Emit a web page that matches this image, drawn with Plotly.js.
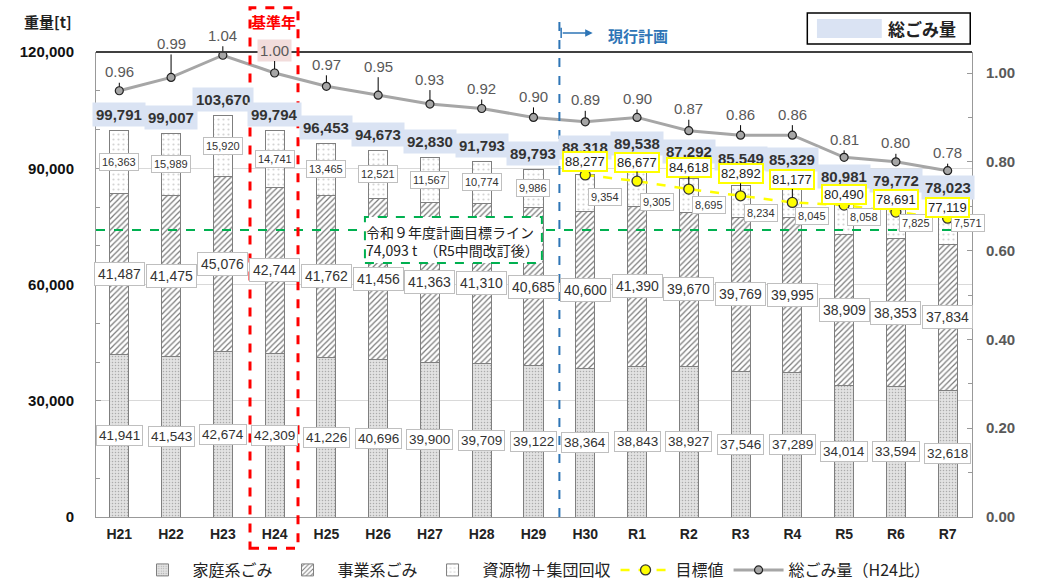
<!DOCTYPE html>
<html>
<head>
<meta charset="utf-8">
<script src="https://cdn.plot.ly/plotly-3.0.1.min.js"></script>
<style>
  body { margin: 0; background: #fff; }
  #chart { width: 1040px; height: 582px; }
</style>
</head>
<body>
<div id="chart"></div>
<script>
// years on the x axis
const years = ['H21', 'H22', 'H23', 'H24', 'H25', 'H26', 'H27', 'H28', 'H29',
               'H30', 'R1', 'R2', 'R3', 'R4', 'R5', 'R6', 'R7'];

// stacked parts of the total (t)
const household = [41941, 41543, 42674, 42309, 41226, 40696, 39900, 39709, 39122,
                   38364, 38843, 38927, 37546, 37289, 34014, 33594, 32618];
const business = [41487, 41475, 45076, 42744, 41762, 41456, 41363, 41310, 40685,
                  40600, 41390, 39670, 39769, 39995, 38909, 38353, 37834];
const resources = [16363, 15989, 15920, 14741, 13465, 12521, 11567, 10774, 9986,
                   9354, 9305, 8695, 8234, 8045, 8058, 7825, 7571];
const totals = [99791, 99007, 103670, 99794, 96453, 94673, 92830, 91793, 89793,
                88318, 89538, 87292, 85549, 85329, 80981, 79772, 78023];

// total compared with H24
const ratio = [0.96, 0.99, 1.04, 1.00, 0.97, 0.95, 0.93, 0.92, 0.90,
               0.89, 0.90, 0.87, 0.86, 0.86, 0.81, 0.80, 0.78];

// plan targets
const targetYears = ['H30', 'R1', 'R2', 'R3', 'R4', 'R5', 'R6', 'R7'];
const targetValues = [88277, 86677, 84618, 82892, 81177, 80490, 78691, 77119];

const planLine = 74093;

const FONT = '"Liberation Sans", Arial, "Noto Sans CJK JP", sans-serif';
const JP = '"Noto Sans CJK JP", sans-serif';

function fmt(v) { return v.toLocaleString('en-US'); }

const barLine = { color: '#7f7f7f', width: 1 };

const traces = [
  {
    type: 'bar', name: '家庭系ごみ', x: years, y: household, width: 0.37,
    marker: { color: '#dedede', line: barLine,
      pattern: { shape: '.', fgcolor: '#ababab', bgcolor: '#e2e2e2', size: 3, solidity: 0.2 } },
    hoverinfo: 'skip'
  },
  {
    type: 'bar', name: '事業系ごみ', x: years, y: business, width: 0.37,
    marker: { color: '#ffffff', line: barLine,
      pattern: { shape: '/', fgcolor: '#7a7a7a', bgcolor: '#ffffff', size: 4, solidity: 0.3 } },
    hoverinfo: 'skip'
  },
  {
    type: 'bar', name: '資源物＋集団回収', x: years, y: resources, width: 0.37,
    marker: { color: '#ffffff', line: barLine,
      pattern: { shape: '.', fgcolor: '#d4d4d4', bgcolor: '#ffffff', size: 5, solidity: 0.15 } },
    hoverinfo: 'skip'
  },
  {
    type: 'scatter', mode: 'lines+markers', name: '目標値', x: targetYears, y: targetValues,
    line: { color: '#ffff00', width: 2.5, dash: 'dash' },
    marker: { color: '#ffff00', size: 10, line: { color: '#333', width: 1.3 } },
    hoverinfo: 'skip'
  },
  {
    type: 'scatter', mode: 'lines+markers', name: '総ごみ量（H24比）', x: years, y: ratio, yaxis: 'y2',
    line: { color: '#a6a6a6', width: 3 },
    marker: { color: '#a6a6a6', size: 8, line: { color: '#222', width: 1.2 } },
    hoverinfo: 'skip'
  }
];

// label offsets (px)
const ratioLift = [-19, -34, -20, -23, -22, -29, -25, -20, -21, -22, -19, -22, -21, -21, -18, -19, -18];
const targetLift = [-13, -19, -22, -22, -23, -11, -13, -11];
const resLift = [-4, -14, -9, -12, -14, 2, 0, 6];

const ann = [];
years.forEach((yr, i) => {
  const late = i >= 9;
  ann.push({
    x: yr, y: household[i] / 2, text: fmt(household[i]), showarrow: false,
    bgcolor: '#fff', bordercolor: '#bfbfbf', borderwidth: 1, borderpad: 2,
    font: { family: FONT, size: 13.5, color: '#333' }
  });
  ann.push({
    x: yr, y: household[i] + business[i] / 2, text: fmt(business[i]), showarrow: false,
    bgcolor: '#fff', bordercolor: '#bfbfbf', borderwidth: 1, borderpad: 3,
    font: { family: FONT, size: 14, color: '#333' }
  });
  ann.push({
    x: yr, y: household[i] + business[i] + resources[i] / 2, text: fmt(resources[i]), showarrow: false,
    xshift: late ? 20 : 0, yshift: late ? resLift[i - 9] : 0,
    bgcolor: '#fff', bordercolor: '#bfbfbf', borderwidth: 1, borderpad: 2,
    font: { family: FONT, size: 11, color: '#333' }
  });
  ann.push({
    x: yr, y: totals[i], text: fmt(totals[i]), showarrow: false, yshift: late ? 27 : 16,
    bgcolor: '#dae3f3', borderpad: 3,
    font: { family: FONT, size: 15, color: '#333', weight: 'bold' }
  });
  ann.push({
    x: yr, y: ratio[i], yref: 'y2', text: ratio[i].toFixed(2),
    showarrow: true, arrowhead: 0, arrowwidth: 1, arrowcolor: '#000', ax: 0, ay: ratioLift[i], standoff: 4,
    bgcolor: yr === 'H24' ? '#f2dcdb' : 'rgba(0,0,0,0)', borderpad: 2,
    font: { family: FONT, size: 15, color: '#595959' }
  });
});

targetYears.forEach((yr, i) => {
  ann.push({
    x: yr, y: targetValues[i], text: fmt(targetValues[i]),
    showarrow: true, arrowhead: 0, arrowwidth: 1, arrowcolor: '#000', ax: 0, ay: targetLift[i], standoff: 5,
    bgcolor: '#fff', bordercolor: '#ffff00', borderwidth: 2, borderpad: 1,
    font: { family: FONT, size: 13, color: '#222' }
  });
});

// texts outside the data
const mid = { xref: 'paper', yref: 'paper', xanchor: 'center', yanchor: 'middle', showarrow: false };
ann.push(
  Object.assign({}, mid, { x: -0.055, y: 1.065, text: '重量[t]',
    font: { family: JP, size: 15, color: '#222', weight: 'bold' } }),
  Object.assign({}, mid, { x: 0.203, y: 1.065, text: '基準年',
    font: { family: JP, size: 15, color: '#ff0000', weight: 'bold' } }),
  Object.assign({}, mid, { x: 0.567, y: 1.041, text: ' ', showarrow: true,
    ax: -33, ay: 0, arrowhead: 2, arrowsize: 1, arrowwidth: 1.5, arrowcolor: '#2e75b6' }),
  Object.assign({}, mid, { x: 0.619, y: 1.036, text: '現行計画',
    font: { family: JP, size: 15, color: '#2e75b6', weight: 'bold' } }),
  Object.assign({}, mid, { x: 0.943, y: 1.050, text: '総ごみ量',
    font: { family: JP, size: 17, color: '#222', weight: 'bold' } }),
  Object.assign({}, mid, { x: 0.4075, y: 0.594, align: 'left',
    text: '令和９年度計画目標ライン<br>74,093 t　（R5中間改訂後）',
    font: { family: JP, size: 14, color: '#222' } })
);

const shapes = [
  // plan target line
  { type: 'line', xref: 'paper', yref: 'y', x0: 0, x1: 1, y0: planLine, y1: planLine, layer: 'above',
    line: { color: '#00b050', width: 2, dash: 'dash' } },
  // note box for the target line
  { type: 'rect', xref: 'paper', yref: 'paper', x0: 0.307, x1: 0.509, y0: 0.546, y1: 0.645, layer: 'above',
    fillcolor: '#fff', line: { color: '#00b050', width: 2, dash: 'dash' } },
  // top border
  { type: 'line', xref: 'paper', yref: 'paper', x0: 0, x1: 1, y0: 1, y1: 1,
    line: { color: '#404040', width: 2 } },
  // base year box
  { type: 'rect', xref: 'paper', yref: 'paper', x0: 0.1758, x1: 0.2306, y0: -0.067, y1: 1.095, layer: 'above',
    line: { color: '#ff0000', width: 3, dash: 'dash' } },
  // current plan divider
  { type: 'line', xref: 'paper', yref: 'paper', x0: 0.529, x1: 0.529, y0: 0, y1: 1.075, layer: 'above',
    line: { color: '#2e75b6', width: 2, dash: 'dash' } },
  { type: 'line', xref: 'paper', yref: 'paper', x0: 0.531, x1: 0.531, y0: 1.030, y1: 1.052,
    line: { color: '#2e75b6', width: 1.5 } },
  // legend box for the totals
  { type: 'rect', xref: 'paper', yref: 'paper', x0: 0.812, x1: 0.998, y0: 1.017, y1: 1.084,
    fillcolor: '#fff', line: { color: '#000', width: 1.5 } },
  { type: 'rect', xref: 'paper', yref: 'paper', x0: 0.823, x1: 0.897, y0: 1.030, y1: 1.071,
    fillcolor: '#dae3f3', line: { width: 0 } }
];

const layout = {
  width: 1040, height: 582,
  margin: { l: 96, r: 68, t: 52, b: 65, autoexpand: false },
  paper_bgcolor: '#fff', plot_bgcolor: '#fff',
  barmode: 'stack',
  showlegend: true,
  legend: { orientation: 'h', traceorder: 'normal', x: 0.5, xanchor: 'center', y: -0.114, yanchor: 'middle',
            itemwidth: 50, font: { family: JP, size: 16, color: '#222' } },
  xaxis: {
    type: 'category', range: [-0.45, 16.47], showline: true, linecolor: '#999', ticks: '',
    ticklabelstandoff: 4,
    tickfont: { family: FONT, size: 14, color: '#222', weight: 'bold' }
  },
  yaxis: {
    range: [0, 120000], tickmode: 'linear', tick0: 0, dtick: 30000, tickformat: ',d',
    ticks: 'inside', ticklen: 5, tickcolor: '#999', ticklabelstandoff: 18,
    minor: { dtick: 10000, ticks: 'inside', ticklen: 4, tickcolor: '#999', showgrid: false },
    showline: true, linecolor: '#999', gridcolor: '#d9d9d9', zeroline: false,
    tickfont: { family: FONT, size: 15, color: '#111', weight: 'bold' }
  },
  yaxis2: {
    overlaying: 'y', side: 'right', range: [0, 1.0473], tickmode: 'linear', tick0: 0, dtick: 0.2,
    tickformat: '.2f', ticks: 'inside', ticklen: 5, tickcolor: '#999', ticklabelstandoff: 10,
    minor: { dtick: 0.1, ticks: 'inside', ticklen: 4, tickcolor: '#999', showgrid: false },
    showline: true, linecolor: '#999', showgrid: false, zeroline: false,
    tickfont: { family: FONT, size: 15, color: '#595959', weight: 'bold' }
  },
  annotations: ann,
  shapes: shapes
};

Plotly.newPlot('chart', traces, layout, { displayModeBar: false, staticPlot: true });
</script>
</body>
</html>
